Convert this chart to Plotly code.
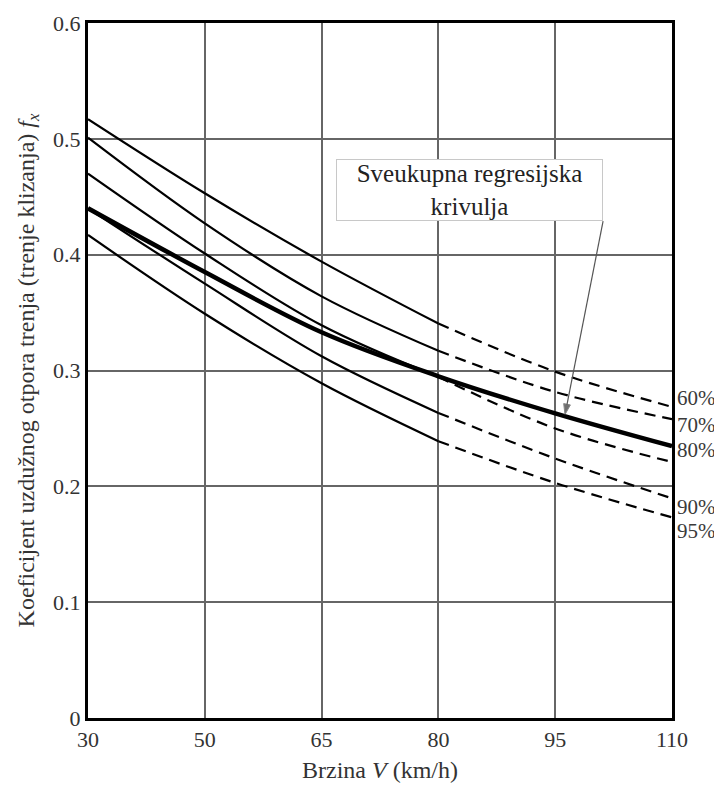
import plotly.graph_objects as go

# speeds on the x axis (grid lines are evenly spaced, not proportional)
speeds = [30, 50, 65, 80, 95, 110]
pos = list(range(len(speeds)))

# friction coefficient curves, one value per grid line
curve_60 = [0.517, 0.453, 0.394, 0.3405, 0.299, 0.2686]
curve_70 = [0.501, 0.427, 0.364, 0.317, 0.2815, 0.258]
curve_80 = [0.470, 0.401, 0.339, 0.2945, 0.250, 0.221]
curve_90 = [0.440, 0.375, 0.3123, 0.2634, 0.224, 0.1896]
curve_95 = [0.417, 0.349, 0.289, 0.239, 0.203, 0.1732]
overall = [0.440, 0.385, 0.333, 0.295, 0.263, 0.2347]

percent_names = ["60%", "70%", "80%", "90%", "95%"]
percent_curves = [curve_60, curve_70, curve_80, curve_90, curve_95]
label_y = [0.276, 0.2528, 0.2312, 0.182, 0.1613]

yticks = [0, 0.1, 0.2, 0.3, 0.4, 0.5, 0.6]
ytick_text = ["0", "0.1", "0.2", "0.3", "0.4", "0.5", "0.6"]

# arrow from the text box to the overall curve (axis units)
arrow_x = [4.41, 4.084]
arrow_y = [0.429, 0.262]

serif = "Liberation Serif"
solid_end = 3  # curves turn dashed from 80 km/h

fig = go.Figure()

for name, vals in zip(percent_names, percent_curves):
    # measured part - solid
    fig.add_trace(go.Scatter(
        x=pos[:solid_end + 1], y=vals[:solid_end + 1], mode="lines",
        line=dict(color="black", width=2.2, shape="spline"),
        showlegend=False, hoverinfo="skip"))
    # extrapolated part - dashed
    fig.add_trace(go.Scatter(
        x=pos[solid_end:], y=vals[solid_end:], mode="lines",
        line=dict(color="black", width=2.2, shape="spline", dash="11px,7px"),
        showlegend=False, hoverinfo="skip"))

# overall regression curve, thick
fig.add_trace(go.Scatter(
    x=pos, y=overall, mode="lines",
    line=dict(color="black", width=4.5, shape="spline"),
    showlegend=False, hoverinfo="skip"))

# pointer arrow
fig.add_trace(go.Scatter(
    x=arrow_x, y=arrow_y, mode="lines+markers",
    line=dict(color="#555", width=1.2),
    marker=dict(symbol=["circle", "arrow"], size=[0, 11], color="#333",
                angleref="previous"),
    showlegend=False, hoverinfo="skip"))

# percentile labels right of the plot
for name, yy in zip(percent_names, label_y):
    fig.add_annotation(x=1, xref="paper", xanchor="left", xshift=3,
                       y=yy, yref="y", text=name, showarrow=False,
                       font=dict(family=serif, size=21, color="#3a3a3a"))

# text box
fig.add_annotation(x=3.266, y=0.456, xref="x", yref="y",
                   text="Sveukupna regresijska<br>krivulja", showarrow=False,
                   font=dict(family=serif, size=25, color="#222"),
                   bgcolor="white", bordercolor="#c8c8c8", borderwidth=1,
                   width=265, height=60, borderpad=0)

axis_common = dict(showline=True, linecolor="black", linewidth=3, mirror=True,
                   showgrid=True, gridcolor="#666", gridwidth=2,
                   zeroline=False, ticks="", automargin=False,
                   tickfont=dict(family=serif, size=22, color="#333"))

fig.update_xaxes(range=[0, 5], tickvals=pos, ticktext=[str(s) for s in speeds],
                 title=dict(text="Brzina <i>V</i> (km/h)", standoff=10,
                            font=dict(family=serif, size=24, color="#333")),
                 **axis_common)
fig.update_yaxes(range=[0, 0.6], tickvals=yticks, ticktext=ytick_text,
                 title=dict(text="Koeficijent uzdužnog otpora trenja (trenje klizanja) <i>f<sub>x</sub></i>",
                            standoff=12,
                            font=dict(family=serif, size=24, color="#333")),
                 **axis_common)

# the page body adds an 8px margin, so the figure is 8px smaller
fig.update_layout(width=714, height=777,
                  margin=dict(l=80, r=50, t=15, b=67),
                  plot_bgcolor="white", paper_bgcolor="white")

fig.write_html("out.html")
